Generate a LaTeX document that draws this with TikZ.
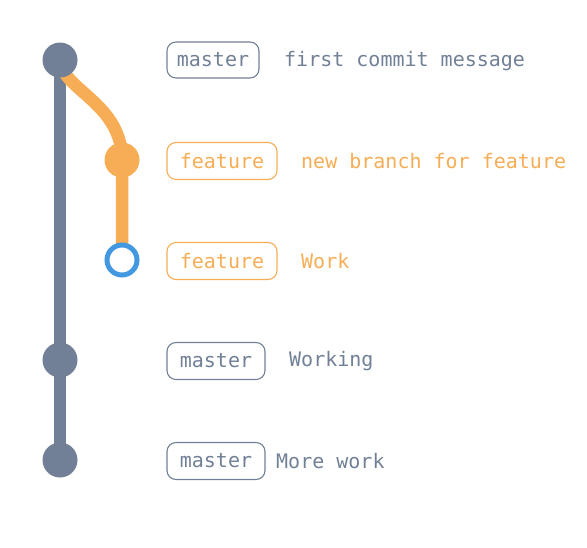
\documentclass[tikz,border=0pt]{standalone}
\usepackage{fontspec}
\setmonofont{DejaVu Sans Mono}
\definecolor{slate}{HTML}{718096}
\definecolor{orng}{HTML}{F6AD55}
\definecolor{blu}{HTML}{4299E1}
\begin{document}
\begin{tikzpicture}[x=1pt,y=-1pt,
  txt/.style={font=\ttfamily\fontsize{20}{22}\selectfont},
  commit/.style={circle,minimum size=35pt,inner sep=0pt,fill=slate},
  fcommit/.style={circle,minimum size=35pt,inner sep=0pt,fill=orng},
  headcommit/.style={circle,minimum size=30pt,inner sep=0pt,draw=blu,line width=5pt,fill=white},
  tagbox/.style={txt,draw,rounded corners=9pt,line width=1.1pt,minimum height=37pt,inner sep=0pt},
  mtag/.style={tagbox,draw=slate,text=slate},
  ftag/.style={tagbox,draw=orng,text=orng},
  msg/.style={txt,anchor=west,inner sep=0pt},
  mainline/.style={line width=12.5pt,draw=slate},
  featline/.style={line width=12.5pt,draw=orng}
]
\useasboundingbox (0,0) rectangle (587,547);
% connectors drawn first (under nodes)
\coordinate (p1) at (60,60);
\coordinate (p2) at (122,160);
\coordinate (p3) at (122,260);
\coordinate (p4) at (60,360);
\coordinate (p5) at (60,460);
\draw[mainline] (p1) -- (p4) -- (p5);
\draw[featline] (p1) .. controls (62,90) and (122,103) .. (p2) -- (p3);
% commits
\node[commit] (c1) at (p1) {};
\node[fcommit] (c2) at (p2) {};
\node[headcommit] (c3) at (p3) {};
\node[commit] (c4) at (p4) {};
\node[commit] (c5) at (p5) {};
% tags
\node[mtag,minimum width=92pt,minimum height=36pt] (t1) at (213,60) {master};
\node[ftag,minimum width=110pt] (t2) at (222,161) {feature};
\node[ftag,minimum width=110pt] (t3) at (222,261) {feature};
\node[mtag,minimum width=98pt] (t4) at (216,361) {master};
\node[mtag,minimum width=98pt] (t5) at (216,461) {master};
% messages
\node[msg,text=slate] (m1) at (284,61) {first commit message};
\node[msg,text=orng] (m2) at (301,161) {new branch for feature};
\node[msg,text=orng] (m3) at (301,261) {Work};
\node[msg,text=slate] (m4) at (289,361) {Working};
\node[msg,text=slate] (m5) at (276,461) {More work};
\end{tikzpicture}
\end{document}
